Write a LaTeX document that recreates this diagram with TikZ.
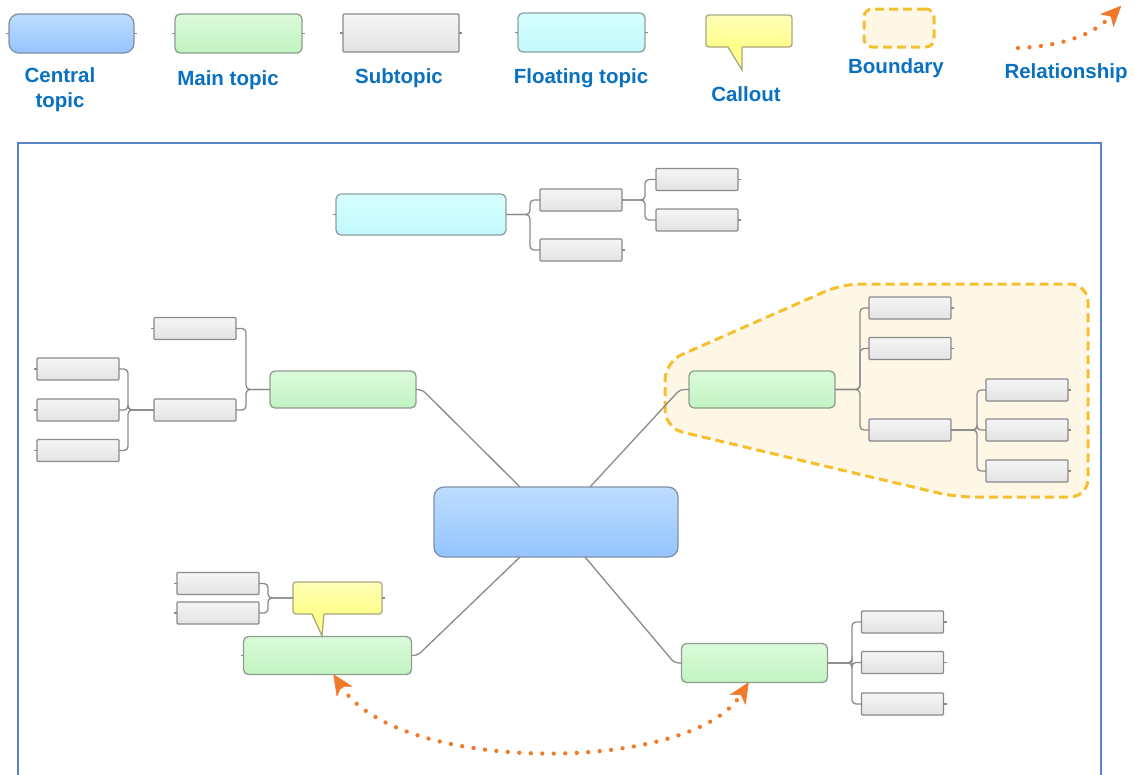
\documentclass[tikz,border=0pt]{standalone}
\usepackage{fontspec}
\setmainfont{Liberation Sans}
\usetikzlibrary{arrows.meta,calc}

\definecolor{subtop}{HTML}{F5F5F5}
\definecolor{subbot}{HTML}{E3E3E3}
\definecolor{subline}{HTML}{8A8A8A}
\definecolor{maintop}{HTML}{DAFBDA}
\definecolor{mainbot}{HTML}{C2F3C2}
\definecolor{mainline}{HTML}{8E9E8E}
\definecolor{centtop}{HTML}{BEDDFF}
\definecolor{centbot}{HTML}{94C4FF}
\definecolor{centline}{HTML}{8090A5}
\definecolor{flttop}{HTML}{D6FFFF}
\definecolor{fltbot}{HTML}{C2F8FA}
\definecolor{fltline}{HTML}{8CA0A0}
\definecolor{calltop}{HTML}{FFFFB8}
\definecolor{callbot}{HTML}{FFFF8A}
\definecolor{callline}{HTML}{A8A880}
\definecolor{bndline}{HTML}{F4C030}
\definecolor{bndfill}{HTML}{FEF7E6}
\definecolor{relorange}{HTML}{F07A28}
\definecolor{frameblue}{HTML}{5585C5}
\definecolor{lblblue}{HTML}{0A70C0}
\definecolor{connc}{HTML}{8A8A8A}

\tikzset{reltip/.tip={Stealth[length=21pt,width=19pt,inset=6pt,line width=0.5pt,round]}}

\begin{document}
\begin{tikzpicture}[x=1pt,y=-1pt,
  box/.style={draw, inner sep=0pt, outer sep=0pt, line width=1.3pt},
  subt/.style={box, draw=subline, top color=subtop, bottom color=subbot,
    rounded corners=1pt, minimum width=82pt, minimum height=22pt},
  maint/.style={box, draw=mainline, top color=maintop, bottom color=mainbot,
    rounded corners=5pt, minimum width=146pt, minimum height=37pt},
  centt/.style={box, draw=centline, top color=centtop, bottom color=centbot,
    rounded corners=10pt},
  fltt/.style={box, draw=fltline, top color=flttop, bottom color=fltbot,
    rounded corners=5pt},
  callt/.style={box, draw=callline, top color=calltop, bottom color=callbot,
    rounded corners=3pt},
  conn/.style={draw=connc, line width=1.3pt, rounded corners=4pt},
  stub/.style={draw=connc, line width=1.2pt},
  lbl/.style={text=lblblue, inner sep=0pt, align=center,
    font=\bfseries\fontsize{20.5}{25}\selectfont},
  bnd/.style={draw=bndline, fill=bndfill, line width=3pt,
    dash pattern=on 9pt off 5pt, rounded corners=18pt},
  rel/.style={draw=relorange, line width=4.3pt, line cap=round,
    dash pattern=on 0pt off 11.5pt}
]
\useasboundingbox (0,0) rectangle (1135,774);

% ---------- legend ----------
\node[centt, minimum width=125pt, minimum height=39pt] (lgC) at (71.5,33.5) {};
\node[maint, minimum width=127pt, minimum height=39pt] (lgM) at (238.5,33.5) {};
\node[subt, minimum width=116pt, minimum height=38pt] (lgS) at (401,33) {};
\node[fltt, minimum width=127pt, minimum height=39pt] (lgF) at (581.5,32.5) {};
\node[callt, minimum width=86pt, minimum height=32pt] (lgK) at (749,31) {};
\fill[callbot] ($(lgK.south)+(-21,-1.5)$) -- ($(lgK.south)+(-7,23)$) -- ($(lgK.south)+(-7,-1.5)$) -- cycle;
\draw[callline, line width=1.3pt] ($(lgK.south)+(-21,0)$) -- ($(lgK.south)+(-7,23)$) -- ($(lgK.south)+(-7,0)$);
\node[bnd, rounded corners=8pt, minimum width=70pt, minimum height=38pt, inner sep=0pt] (lgB) at (899,28) {};

\foreach \n in {lgC,lgM,lgS,lgF}{
  \draw[stub] (\n.west) -- ++(-3,0);
  \draw[stub] (\n.east) -- ++(3,0);
}

\coordinate (lrS) at (1018,48);
\coordinate (lrE) at (1121,6);
\draw[rel, -{reltip}] (lrS) .. controls (1060,46) and (1092,36) .. (lrE);

\node[lbl] (tC) at (60,90) {Central\\topic};
\node[lbl] (tM) at (228,80) {Main topic};
\node[lbl] (tS) at (399,78) {Subtopic};
\node[lbl] (tF) at (581,78) {Floating topic};
\node[lbl] (tK) at (746,94) {Callout};
\node[lbl] (tB) at (896,68) {Boundary};
\node[lbl] (tR) at (1066,73) {Relationship};

% ---------- frame ----------
\draw[frameblue, line width=2pt] (18,143) rectangle (1101,800);

% ---------- boundary around the right branch ----------
\draw[bnd] (665,428) -- (665,362) -- (842,284) -- (1088,284) -- (1088,497) -- (955,497) -- cycle;

% ---------- topics ----------
\node[centt, minimum width=244pt, minimum height=70pt] (ct) at (556,522) {};

\node[maint] (mL) at (343,389.5) {};
\node[maint] (mR) at (762,389.5) {};
\node[maint, minimum width=168pt, minimum height=38pt] (mBL) at (327.5,655.5) {};
\node[maint, minimum height=39pt] (mBR) at (754.5,663) {};

\node[fltt, minimum width=170pt, minimum height=41pt] (fl) at (421,214.5) {};
\node[subt] (f1) at (581,200) {};
\node[subt] (f2) at (581,250) {};
\node[subt] (f1a) at (697,179.5) {};
\node[subt] (f1b) at (697,220) {};

\node[subt] (l1) at (195,328.5) {};
\node[subt] (l2) at (195,410) {};
\node[subt] (l2a) at (78,369) {};
\node[subt] (l2b) at (78,410) {};
\node[subt] (l2c) at (78,450.5) {};

\node[subt] (r1) at (910,308) {};
\node[subt] (r2) at (910,348.5) {};
\node[subt] (r3) at (910,430) {};
\node[subt] (r3a) at (1027,390) {};
\node[subt] (r3b) at (1027,430) {};
\node[subt] (r3c) at (1027,471) {};

\node[subt] (c1) at (218,583.5) {};
\node[subt] (c2) at (218,613) {};

\node[subt] (b1) at (902.5,622) {};
\node[subt] (b2) at (902.5,662.5) {};
\node[subt] (b3) at (902.5,704) {};

% callout attached to the lower left main topic
\node[callt, minimum width=89pt, minimum height=32pt] (kc) at (337.5,598) {};
\fill[callbot] ($(kc.south)+(-25.5,-1.5)$) -- ($(kc.south)+(-15.5,22)$) -- ($(kc.south)+(-13.5,-1.5)$) -- cycle;
\draw[callline, line width=1.3pt] ($(kc.south)+(-25.5,0)$) -- ($(kc.south)+(-15.5,22)$) -- ($(kc.south)+(-13.5,0)$);

% ---------- branches from the central topic ----------
\draw[conn] (mL.east) -- ++(6,0) -- ([xshift=-36pt]ct.north);
\draw[conn] (mR.west) -- ++(-9,0) -- ([xshift=34pt]ct.north);
\draw[conn] (mBL.east) -- ++(6,0) -- ([xshift=-36pt]ct.south);
\draw[conn] (mBR.west) -- ++(-7,0) -- ([xshift=29pt]ct.south);

% ---------- bracket connectors ----------
\coordinate (xF) at (530,0);
\coordinate (xF1) at (645,0);
\coordinate (xL) at (246,0);
\coordinate (xL2) at (128,0);
\coordinate (xR) at (860,0);
\coordinate (xR3) at (977,0);
\coordinate (xC) at (268,0);
\coordinate (xB) at (852,0);

\foreach \c in {f1,f2}{\draw[conn] (fl.east) -- (fl.east -| xF) |- (\c.west);}
\foreach \c in {f1a,f1b}{\draw[conn] (f1.east) -- (f1.east -| xF1) |- (\c.west);}
\foreach \c in {l1,l2}{\draw[conn] (mL.west) -- (mL.west -| xL) |- (\c.east);}
\foreach \c in {l2a,l2b,l2c}{\draw[conn] (l2.west) -- (l2.west -| xL2) |- (\c.east);}
\foreach \c in {r1,r2,r3}{\draw[conn] (mR.east) -- (mR.east -| xR) |- (\c.west);}
\foreach \c in {r3a,r3b,r3c}{\draw[conn] (r3.east) -- (r3.east -| xR3) |- (\c.west);}
\foreach \c in {c1,c2}{\draw[conn] (kc.west) -- (kc.west -| xC) |- (\c.east);}
\foreach \c in {b1,b2,b3}{\draw[conn] (mBR.east) -- (mBR.east -| xB) |- (\c.west);}

% ---------- end stubs ----------
\foreach \n in {f1a,f1b,f2,r1,r2,r3a,r3b,r3c,b1,b2,b3,kc}{\draw[stub] (\n.east) -- ++(3,0);}
\foreach \n in {fl,l1,l2a,l2b,l2c,c1,c2,mBL}{\draw[stub] (\n.west) -- ++(-3,0);}

% ---------- relationship between the two lower main topics ----------
\draw[rel, {reltip}-{reltip}] ([xshift=6pt]mBL.south) .. controls +(66,101) and +(-57,91) .. ([xshift=-6pt]mBR.south);
\end{tikzpicture}
\end{document}
